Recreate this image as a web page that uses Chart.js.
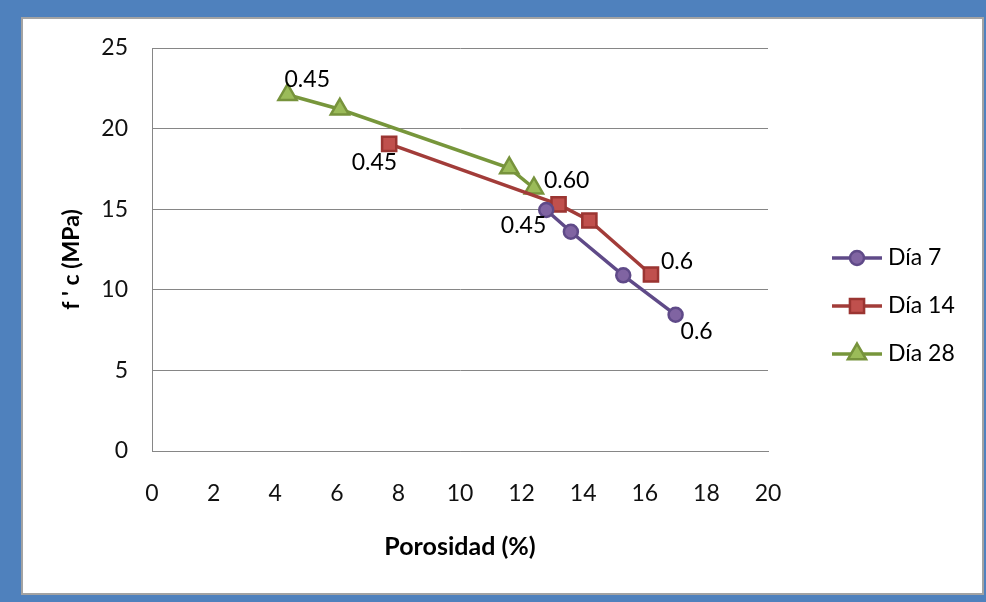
<!DOCTYPE html>
<html lang="es">
<head>
<meta charset="utf-8">
<title>Resistencia a compresión vs porosidad</title>
<script src="https://cdn.jsdelivr.net/npm/chart.js@4/dist/chart.umd.min.js"></script>
<style>
  html, body { margin: 0; padding: 0; }
  body { width: 986px; height: 602px; background: #4F81BD; overflow: hidden; position: relative; }
  #frame {
    position: absolute; left: 21px; top: 17px;
    width: 959px; height: 574px;
    border: 2px solid #A3A3A3; background: #fff;
  }
  #chart { display: block; }
</style>
</head>
<body>
<div id="frame"><canvas id="chart" width="959" height="574"></canvas></div>
<script>
// Porosidad (%) y f'c (MPa) por edad de ensayo
const seriesNames = ['Día 7', 'Día 14', 'Día 28'];

const porosidad7  = [12.8, 13.6, 15.3, 17.0];
const fc7         = [14.95, 13.6, 10.9, 8.45];
const rotulos7    = ['0.45', '', '', '0.6'];

const porosidad14 = [7.7, 13.2, 14.2, 16.2];
const fc14        = [19.05, 15.3, 14.3, 10.95];
const rotulos14   = ['0.45', '', '', '0.6'];

const porosidad28 = [4.4, 6.1, 11.6, 12.4];
const fc28        = [22.1, 21.2, 17.55, 16.3];
const rotulos28   = ['0.45', '', '', '0.60'];

const xTicks = [0, 2, 4, 6, 8, 10, 12, 14, 16, 18, 20];
const yTicks = [0, 5, 10, 15, 20, 25];

const xTitle = 'Porosidad (%)';
const yTitle = "f ' c (MPa)";

// where each value label sits relative to its marker
const labelPlacement = [
  [{ align: 'right', dx: 0, dy: 16 }, null, null, { align: 'left', dx: 5, dy: 17 }],
  [{ align: 'right', dx: 8, dy: 19 }, null, null, { align: 'left', dx: 10, dy: -13 }],
  [{ align: 'left', dx: -3, dy: -15 }, null, null, { align: 'left', dx: 10, dy: -8 }]
];

const FONT = 'Lato, "Open Sans", sans-serif';
const TXT = 23;

function points(xs, ys) { return xs.map((x, i) => ({ x: x, y: ys[i] })); }

const datasets = [
  {
    label: seriesNames[0], data: points(porosidad7, fc7), texts: rotulos7,
    borderColor: '#5F4A88', backgroundColor: '#8064A2',
    pointBorderColor: '#5F4A88', pointBackgroundColor: '#8064A2',
    pointStyle: 'circle', pointRadius: 7, pointBorderWidth: 2.5
  },
  {
    label: seriesNames[1], data: points(porosidad14, fc14), texts: rotulos14,
    borderColor: '#A23C39', backgroundColor: '#C0504D',
    pointBorderColor: '#9B3532', pointBackgroundColor: '#C0504D',
    pointStyle: 'rect', pointRadius: 10, pointBorderWidth: 2.5
  },
  {
    label: seriesNames[2], data: points(porosidad28, fc28), texts: rotulos28,
    borderColor: '#77963B', backgroundColor: '#9BBB59',
    pointBorderColor: '#77933C', pointBackgroundColor: '#9BBB59',
    pointStyle: 'triangle', pointRadius: 10.5, pointBorderWidth: 2.5
  }
].map(d => Object.assign({ showLine: true, borderWidth: 3.5, pointHoverRadius: d.pointRadius }, d));

const extras = {
  id: 'extras',
  afterDraw(chart) {
    const ctx = chart.ctx;
    const area = chart.chartArea;
    ctx.save();

    // value labels beside the end markers
    ctx.font = TXT + 'px ' + FONT;
    ctx.fillStyle = '#000';
    ctx.textBaseline = 'middle';
    chart.data.datasets.forEach((ds, di) => {
      const meta = chart.getDatasetMeta(di);
      ds.texts.forEach((t, i) => {
        const pl = labelPlacement[di][i];
        if (!t || !pl) return;
        const el = meta.data[i];
        ctx.textAlign = pl.align;
        ctx.fillText(t, el.x + pl.dx, el.y + pl.dy);
      });
    });

    // vertical axis title
    ctx.save();
    ctx.font = 'bold ' + TXT + 'px ' + FONT;
    ctx.fillStyle = '#000';
    ctx.textAlign = 'center';
    ctx.textBaseline = 'middle';
    ctx.translate(49, (area.top + area.bottom) / 2 + 10);
    ctx.rotate(-Math.PI / 2);
    ctx.fillText(yTitle, 0, 0);
    ctx.restore();

    // legend: line sample with marker, then series name
    const lx = area.right + 64;
    chart.data.datasets.forEach((ds, di) => {
      const y = area.top + 210 + di * 48;
      ctx.strokeStyle = ds.borderColor;
      ctx.lineWidth = 3.5;
      ctx.beginPath();
      ctx.moveTo(lx, y);
      ctx.lineTo(lx + 50, y);
      ctx.stroke();
      ctx.fillStyle = ds.pointBackgroundColor;
      ctx.strokeStyle = ds.pointBorderColor;
      ctx.lineWidth = ds.pointBorderWidth;
      Chart.helpers.drawPoint(ctx, {
        pointStyle: ds.pointStyle, radius: ds.pointRadius, rotation: 0, borderWidth: ds.pointBorderWidth
      }, lx + 25, y);
      ctx.fillStyle = '#000';
      ctx.font = TXT + 'px ' + FONT;
      ctx.textAlign = 'left';
      ctx.textBaseline = 'middle';
      ctx.fillText(ds.label, lx + 56, y);
    });
    ctx.restore();
  }
};

new Chart(document.getElementById('chart'), {
  type: 'scatter',
  data: { datasets: datasets },
  plugins: [extras],
  options: {
    responsive: false,
    animation: false,
    devicePixelRatio: 1,
    layout: { padding: { top: 29, right: 214, bottom: 0, left: 0 } },
    plugins: { legend: { display: false }, tooltip: { enabled: false } },
    scales: {
      x: {
        type: 'linear', min: xTicks[0], max: xTicks[xTicks.length - 1],
        afterBuildTicks(scale) { scale.ticks = xTicks.map(v => ({ value: v })); },
        afterFit(scale) { scale.height = 142; },
        grid: { display: false, drawTicks: false },
        border: { display: true, color: '#868686', width: 1 },
        ticks: { padding: 29, color: '#111', font: { family: FONT, size: TXT }, maxRotation: 0 },
        title: { display: true, text: xTitle, color: '#000', font: { family: FONT, size: 25, weight: 'bold' }, padding: { top: 0, bottom: 31 } }
      },
      y: {
        type: 'linear', min: yTicks[0], max: yTicks[yTicks.length - 1],
        afterBuildTicks(scale) { scale.ticks = yTicks.map(v => ({ value: v })); },
        afterFit(scale) { scale.width = 129; scale.paddingTop = 0; scale.paddingBottom = 0; },
        grid: { color: '#868686', lineWidth: 1, drawTicks: false },
        border: { display: true, color: '#868686', width: 1 },
        ticks: { padding: 24, color: '#111', font: { family: FONT, size: TXT } },
        title: { display: false }
      }
    }
  }
});
</script>
</body>
</html>
